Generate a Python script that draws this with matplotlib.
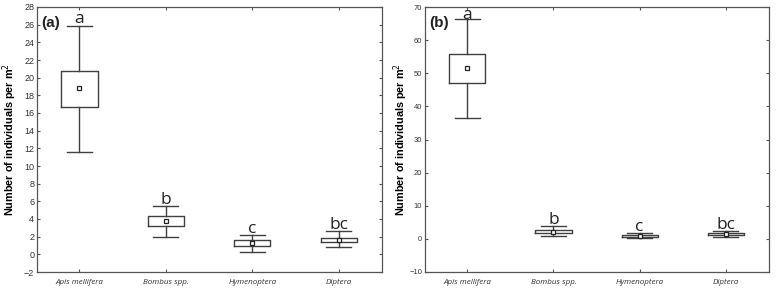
import numpy as np
import matplotlib.pyplot as plt

categories = ['Apis mellifera', 'Bombus spp.', 'Hymenoptera', 'Diptera']
letters = ['a', 'b', 'c', 'bc']

# panel (a)
a_whislo = [11.6, 2.0, 0.3, 0.8]
a_q1 = [16.7, 3.2, 0.9, 1.4]
a_mean = [18.8, 3.8, 1.3, 1.6]
a_q3 = [20.8, 4.3, 1.6, 1.9]
a_whishi = [25.9, 5.5, 2.2, 2.6]

# panel (b)
b_whislo = [36.5, 0.8, 0.2, 0.6]
b_q1 = [47.2, 1.7, 0.6, 1.2]
b_mean = [51.5, 2.1, 0.9, 1.5]
b_q3 = [55.8, 2.6, 1.2, 1.9]
b_whishi = [66.3, 3.8, 1.7, 2.5]

line_col = '#404040'
plt.rcParams['font.family'] = ['Liberation Sans', 'DejaVu Sans']

fig = plt.figure(figsize=(7.76, 2.9), dpi=100)
ax1 = fig.add_axes([37/776, 18/290, 345/776, 265/290])
ax2 = fig.add_axes([425/776, 18/290, 344/776, 265/290])


def draw_panel(ax, lo, q1, mean, q3, hi, ylim, yticks, label, tick_fs, offs, label_x):
    stats = []
    for i in range(len(categories)):
        stats.append({'whislo': lo[i], 'q1': q1[i], 'med': mean[i], 'q3': q3[i],
                      'whishi': hi[i], 'mean': mean[i], 'fliers': []})
    ax.bxp(stats, positions=range(len(categories)), widths=0.42, showmeans=True,
           showfliers=False, patch_artist=False,
           boxprops=dict(color=line_col, linewidth=1.0),
           whiskerprops=dict(color=line_col, linewidth=1.0),
           capprops=dict(color=line_col, linewidth=1.0),
           medianprops=dict(linewidth=0),
           meanprops=dict(marker='s', markersize=3.5, markerfacecolor='white',
                          markeredgecolor='#222222', markeredgewidth=0.9),
           capwidths=0.29)
    ax.set_xlim(-0.49, 3.5)
    ax.set_ylim(*ylim)
    ax.set_yticks(yticks)
    ax.set_xticks(range(len(categories)))
    ax.set_xticklabels(categories, fontstyle='italic', fontsize=5.8,
                       family='Open Sans', color='#333333')
    ax.tick_params(axis='both', direction='in', top=True, right=True, length=2.2,
                   color='#555555', width=0.8)
    ax.tick_params(axis='y', labelsize=tick_fs, labelcolor='#333333', pad=2)
    ax.tick_params(axis='x', pad=5)
    for s in ax.spines.values():
        s.set_color('#555555')
        s.set_linewidth(0.9)
    ax.set_ylabel('Number of individuals per m$^2$', fontsize=7.8,
                  fontweight='bold')
    ax.yaxis.set_label_coords(label_x, 0.5)
    for i, l in enumerate(letters):
        ax.text(i, hi[i] + offs[i], l, ha='center', va='baseline', fontsize=12.5,
                family='Open Sans', color='#222222')
    ax.text(0.013, 0.965, label, transform=ax.transAxes, ha='left', va='top',
            fontsize=11, fontweight='bold', color='#222222')


draw_panel(ax1, a_whislo, a_q1, a_mean, a_q3, a_whishi, (-2, 28),
           np.arange(-2, 29, 2), '(a)', 6.5, [0.25, 0.25, 0.25, 0.25], -0.052)
draw_panel(ax2, b_whislo, b_q1, b_mean, b_q3, b_whishi, (-10, 70),
           np.arange(-10, 71, 10), '(b)', 5.5, [0.0, 0.6, 0.6, 0.6], -0.045)

fig.savefig('out.png', dpi=100)
